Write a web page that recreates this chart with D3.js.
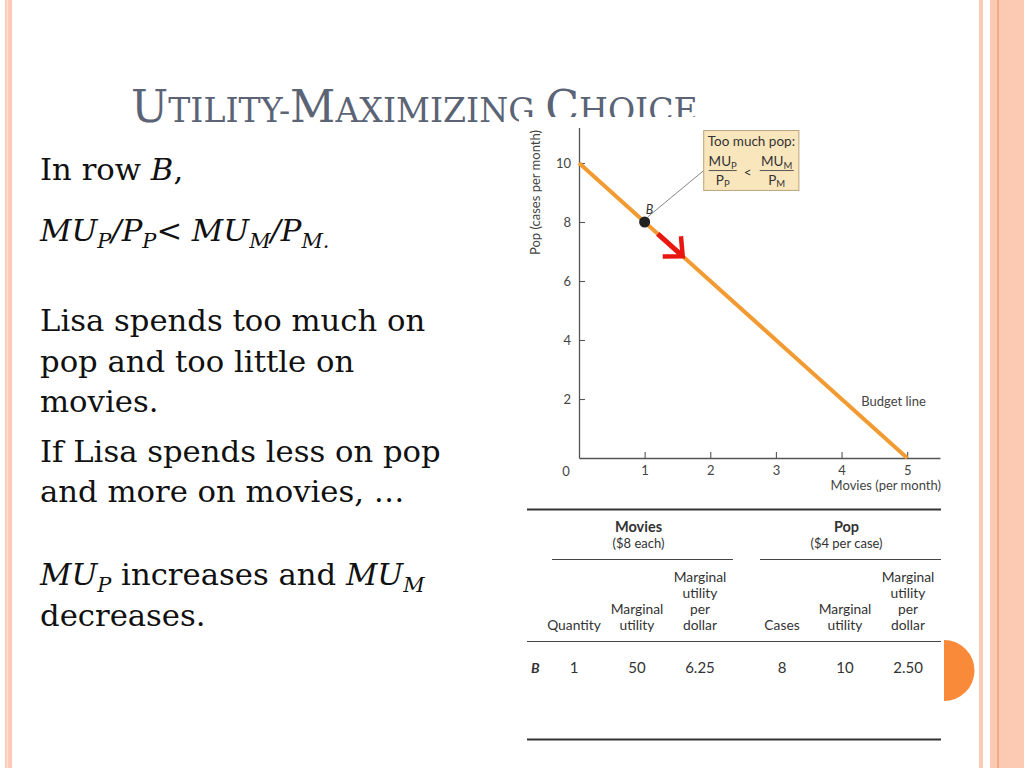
<!DOCTYPE html>
<html><head><meta charset="utf-8">
<script src="https://cdn.jsdelivr.net/npm/d3@7"></script>
<style>html,body{margin:0;padding:0;background:#fff;overflow:hidden}</style>
</head><body>
<svg id="c" width="1024" height="768"></svg>
<script>
// ---------- data ----------
const budgetMovies = [0, 1, 2, 3, 4, 5];
const budgetPop = [10, 8, 6, 4, 2, 0];
const pointBMovies = 1, pointBPop = 8, pointBLabel = "B";
const arrowMovies = [1.2, 1.58];
const arrowPop = [7.6, 6.84];
const xTickValues = [1, 2, 3, 4, 5];
const yTickValues = [2, 4, 6, 8, 10];
const xAxisTitle = "Movies (per month)";
const yAxisTitle = "Pop (cases per month)";
const lineLabel = "Budget line";
const calloutTitle = "Too much pop:";
const groupNames = ["Movies", "Pop"];
const groupPrices = ["($8 each)", "($4 per case)"];
const columnHeaders = [["Quantity"], ["Marginal", "utility"], ["Marginal", "utility", "per", "dollar"],
                       ["Cases"], ["Marginal", "utility"], ["Marginal", "utility", "per", "dollar"]];
const rowLabel = "B";
const rowValues = ["1", "50", "6.25", "8", "10", "2.50"];
const titleParts = [["U", "L"], ["TILITY-", "S"], ["M", "L"], ["AXIMIZING ", "S"], ["C", "L"], ["HOICE", "S"]];
const bodyLines = [
  [["In row ", ""], ["B", "i"], [",", ""]],
  [["MU", "i"], ["P", "is"], ["/", "i"], ["P", "i"], ["P", "is"], ["< ", ""], ["MU", "i"], ["M", "is"], ["/", "i"], ["P", "i"], ["M.", "is"]],
  [["Lisa spends too much on", ""]],
  [["pop and too little on", ""]],
  [["movies.", ""]],
  [["If Lisa spends less on pop", ""]],
  [["and more on movies, \u2026", ""]],
  [["MU", "i"], ["P", "is"], [" increases and ", ""], ["MU", "i"], ["M", "is"]],
  [["decreases.", ""]]
];
const bodyBaselines = [180, 241, 331, 372, 412, 462, 502, 585, 626];

// ---------- page ----------
const svg = d3.select("#c");
svg.append("rect").attr("width", 1024).attr("height", 768).attr("fill", "#fff");

// side decorations
svg.append("rect").attr("x", 5).attr("y", 0).attr("width", 7).attr("height", 768).attr("fill", "#fccab6");
svg.append("line").attr("x1", 7.3).attr("x2", 7.3).attr("y1", 0).attr("y2", 768).attr("stroke", "#fde6dc").attr("stroke-width", 1);
svg.append("rect").attr("x", 979).attr("y", 0).attr("width", 4).attr("height", 768).attr("fill", "#fbcab5");
svg.append("rect").attr("x", 990).attr("y", 0).attr("width", 34).attr("height", 768).attr("fill", "#fcc9b3");
svg.append("line").attr("x1", 998).attr("x2", 998).attr("y1", 0).attr("y2", 768).attr("stroke", "#f19f7b").attr("stroke-width", 1.5);

// title (small caps)
const serif = "'DejaVu Serif', serif";
const title = svg.append("text").attr("x", 131).attr("y", 122)
  .attr("font-family", serif).attr("fill", "#5b6475");
titleParts.forEach(p => title.append("tspan").attr("class", p[1]).text(p[0]));
let L = 44, S = 33;
title.selectAll("tspan.L").attr("font-size", L);
title.selectAll("tspan.S").attr("font-size", S);
const tw = title.node().getComputedTextLength();
const tk = 567 / tw;
title.selectAll("tspan.L").attr("font-size", L * tk);
title.selectAll("tspan.S").attr("font-size", S * tk);

// body text
const body = svg.append("g").attr("font-family", serif).attr("fill", "#111");
function addLine(parts, yb, fs) {
  const t = body.append("text").attr("x", 40).attr("y", yb).attr("font-size", fs);
  let sub = false;
  parts.forEach(p => {
    const ts = t.append("tspan").text(p[0]);
    const isSub = p[1].includes("s");
    if (p[1].includes("i")) ts.attr("font-style", "italic");
    if (isSub) { ts.attr("font-size", fs * 0.68); if (!sub) ts.attr("dy", 7); }
    else if (sub) ts.attr("dy", -7);
    sub = isSub;
  });
  return t;
}
const bodyFont = 30.7;
bodyLines.forEach((parts, i) => addLine(parts, bodyBaselines[i], bodyFont));

// chart image background (covers bottom of title)
svg.append("rect").attr("x", 519).attr("y", 117).attr("width", 425).attr("height", 651).attr("fill", "#fff");

// ---------- chart ----------
const sans = "Lato, 'Open Sans', sans-serif";
const x = d3.scaleLinear().domain([0, 5.5]).range([579, 940]);
const y = d3.scaleLinear().domain([0, 11.2]).range([458, 127.6]);
const chart = svg.append("g").attr("font-family", sans);

const xAxis = chart.append("g").attr("transform", `translate(0,${y(0)})`)
  .call(d3.axisBottom(x).tickValues(xTickValues).tickFormat(d3.format("d")).tickSize(-6).tickSizeOuter(0).tickPadding(8));
const yAxis = chart.append("g").attr("transform", `translate(${x(0)},0)`)
  .call(d3.axisLeft(y).tickValues(yTickValues).tickFormat(d3.format("d")).tickSize(-6).tickSizeOuter(0).tickPadding(8));
[xAxis, yAxis].forEach(a => {
  a.select(".domain").attr("stroke", "#555").attr("stroke-width", 1.3);
  a.selectAll(".tick line").attr("stroke", "#555").attr("stroke-width", 1.1);
  a.selectAll(".tick text").attr("font-size", 13).attr("fill", "#444").attr("font-family", sans);
});
chart.append("text").attr("x", x(0) - 13).attr("y", y(0) + 17.5).attr("text-anchor", "middle")
  .attr("font-size", 13).attr("fill", "#444").text("0");
chart.append("text").attr("x", x(5.5) + 1).attr("y", y(0) + 32).attr("text-anchor", "end")
  .attr("font-size", 13).attr("fill", "#444").text(xAxisTitle);
chart.append("text").attr("transform", `translate(${x(0) - 39},${y(9.0)}) rotate(-90)`)
  .attr("text-anchor", "middle").attr("font-size", 13).attr("fill", "#444").text(yAxisTitle);

// budget line
const budget = budgetMovies.map((m, i) => [m, budgetPop[i]]);
chart.append("path").datum(budget)
  .attr("d", d3.line().x(d => x(d[0])).y(d => y(d[1])))
  .attr("fill", "none").attr("stroke", "#f39b33").attr("stroke-width", 4);
chart.append("text").attr("x", x(4.3)).attr("y", y(1.76)).attr("font-size", 13).attr("fill", "#444").text(lineLabel);

// callout box
const bx = x(1.9), by = y(11.1), bw = x(3.35) - x(1.9), bh = y(9.07) - y(11.1);
chart.append("line").attr("x1", x(pointBMovies) + 3).attr("y1", y(pointBPop) - 5)
  .attr("x2", bx).attr("y2", by + 40).attr("stroke", "#777").attr("stroke-width", 0.9);
chart.append("rect").attr("x", bx).attr("y", by).attr("width", bw).attr("height", bh)
  .attr("fill", "#f9e6bd").attr("stroke", "#bba57a").attr("stroke-width", 1);
const cg = chart.append("g").attr("fill", "#333").attr("font-size", 13.5);
cg.append("text").attr("x", bx + 4).attr("y", by + 15).text(calloutTitle);
function frac(cx, top, sub, bot, bsub, half) {
  const t1 = cg.append("text").attr("x", cx).attr("y", by + 35.5).attr("text-anchor", "middle");
  t1.append("tspan").text(top);
  t1.append("tspan").attr("font-size", 9.5).attr("dy", 2.5).text(sub);
  cg.append("line").attr("x1", cx - half).attr("x2", cx + half).attr("y1", by + 40).attr("y2", by + 40)
    .attr("stroke", "#444").attr("stroke-width", 0.9);
  const t2 = cg.append("text").attr("x", cx).attr("y", by + 54).attr("text-anchor", "middle");
  t2.append("tspan").text(bot);
  t2.append("tspan").attr("font-size", 9.5).attr("dy", 2.5).text(bsub);
}
frac(bx + 19, "MU", "P", "P", "P", 14);
cg.append("text").attr("x", bx + 44).attr("y", by + 46).attr("text-anchor", "middle").text("<");
frac(bx + 73, "MU", "M", "P", "M", 17);

// point B
chart.append("circle").attr("cx", x(pointBMovies)).attr("cy", y(pointBPop)).attr("r", 5.5).attr("fill", "#222");
chart.append("text").attr("x", x(pointBMovies) + 5).attr("y", y(pointBPop) - 8).attr("text-anchor", "middle")
  .attr("font-size", 12.5).attr("font-style", "italic").attr("fill", "#333").text(pointBLabel);

// red arrow
const ax0 = x(arrowMovies[0]), ay0 = y(arrowPop[0]), ax1 = x(arrowMovies[1]), ay1 = y(arrowPop[1]);
const ang = Math.atan2(ay1 - ay0, ax1 - ax0), hl = 20, ha = 0.75;
chart.append("line").attr("x1", ax0).attr("y1", ay0).attr("x2", ax1 - 2 * Math.cos(ang)).attr("y2", ay1 - 2 * Math.sin(ang))
  .attr("stroke", "#e8170f").attr("stroke-width", 5);
chart.append("path")
  .attr("d", `M${ax1 - hl * Math.cos(ang - ha)},${ay1 - hl * Math.sin(ang - ha)} L${ax1},${ay1} L${ax1 - hl * Math.cos(ang + ha)},${ay1 - hl * Math.sin(ang + ha)}`)
  .attr("fill", "none").attr("stroke", "#e8170f").attr("stroke-width", 4.5).attr("stroke-linejoin", "miter");

// ---------- table ----------
const tbl = svg.append("g").attr("font-family", sans).attr("fill", "#333");
const ruleL = 527, ruleR = 941;
const group = d3.scaleBand().domain(groupNames).range([552, 941]).paddingInner(0.13);
const inner = d3.scalePoint().domain([0, 1, 2]).range([22, 148]);
const colX = i => group(groupNames[Math.floor(i / 3)]) + inner(i % 3);
tbl.append("line").attr("x1", ruleL).attr("x2", ruleR).attr("y1", 509.5).attr("y2", 509.5).attr("stroke", "#333").attr("stroke-width", 2);
groupNames.forEach((g, gi) => {
  const cx = group(g) + group.bandwidth() / 2 - 4;
  tbl.append("text").attr("x", cx).attr("y", 531.5).attr("text-anchor", "middle").attr("font-weight", "bold").attr("font-size", 14.5).text(g);
  tbl.append("text").attr("x", cx).attr("y", 548).attr("text-anchor", "middle").attr("font-size", 13).text(groupPrices[gi]);
  tbl.append("line").attr("x1", group(g)).attr("x2", group(g) + group.bandwidth()).attr("y1", 559.5).attr("y2", 559.5)
    .attr("stroke", "#444").attr("stroke-width", 1);
});
columnHeaders.forEach((lines, i) => {
  lines.forEach((ln, j) => {
    tbl.append("text").attr("x", colX(i)).attr("y", 629.5 - (lines.length - 1 - j) * 16)
      .attr("text-anchor", "middle").attr("font-size", 13.8).text(ln);
  });
});
tbl.append("line").attr("x1", ruleL).attr("x2", ruleR).attr("y1", 641.5).attr("y2", 641.5).attr("stroke", "#444").attr("stroke-width", 1);
tbl.append("text").attr("x", 531).attr("y", 673).attr("font-weight", "bold").attr("font-style", "italic").attr("font-size", 14).text(rowLabel);
rowValues.forEach((v, i) => {
  tbl.append("text").attr("x", colX(i)).attr("y", 673).attr("text-anchor", "middle").attr("font-size", 15).text(v);
});
tbl.append("line").attr("x1", ruleL).attr("x2", ruleR).attr("y1", 739.5).attr("y2", 739.5).attr("stroke", "#333").attr("stroke-width", 2);

// orange semicircle
svg.append("path").attr("d", "M944,640 A30.5,30.5 0 0 1 944,701 Z").attr("fill", "#f98a3a");
</script>
</body></html>
